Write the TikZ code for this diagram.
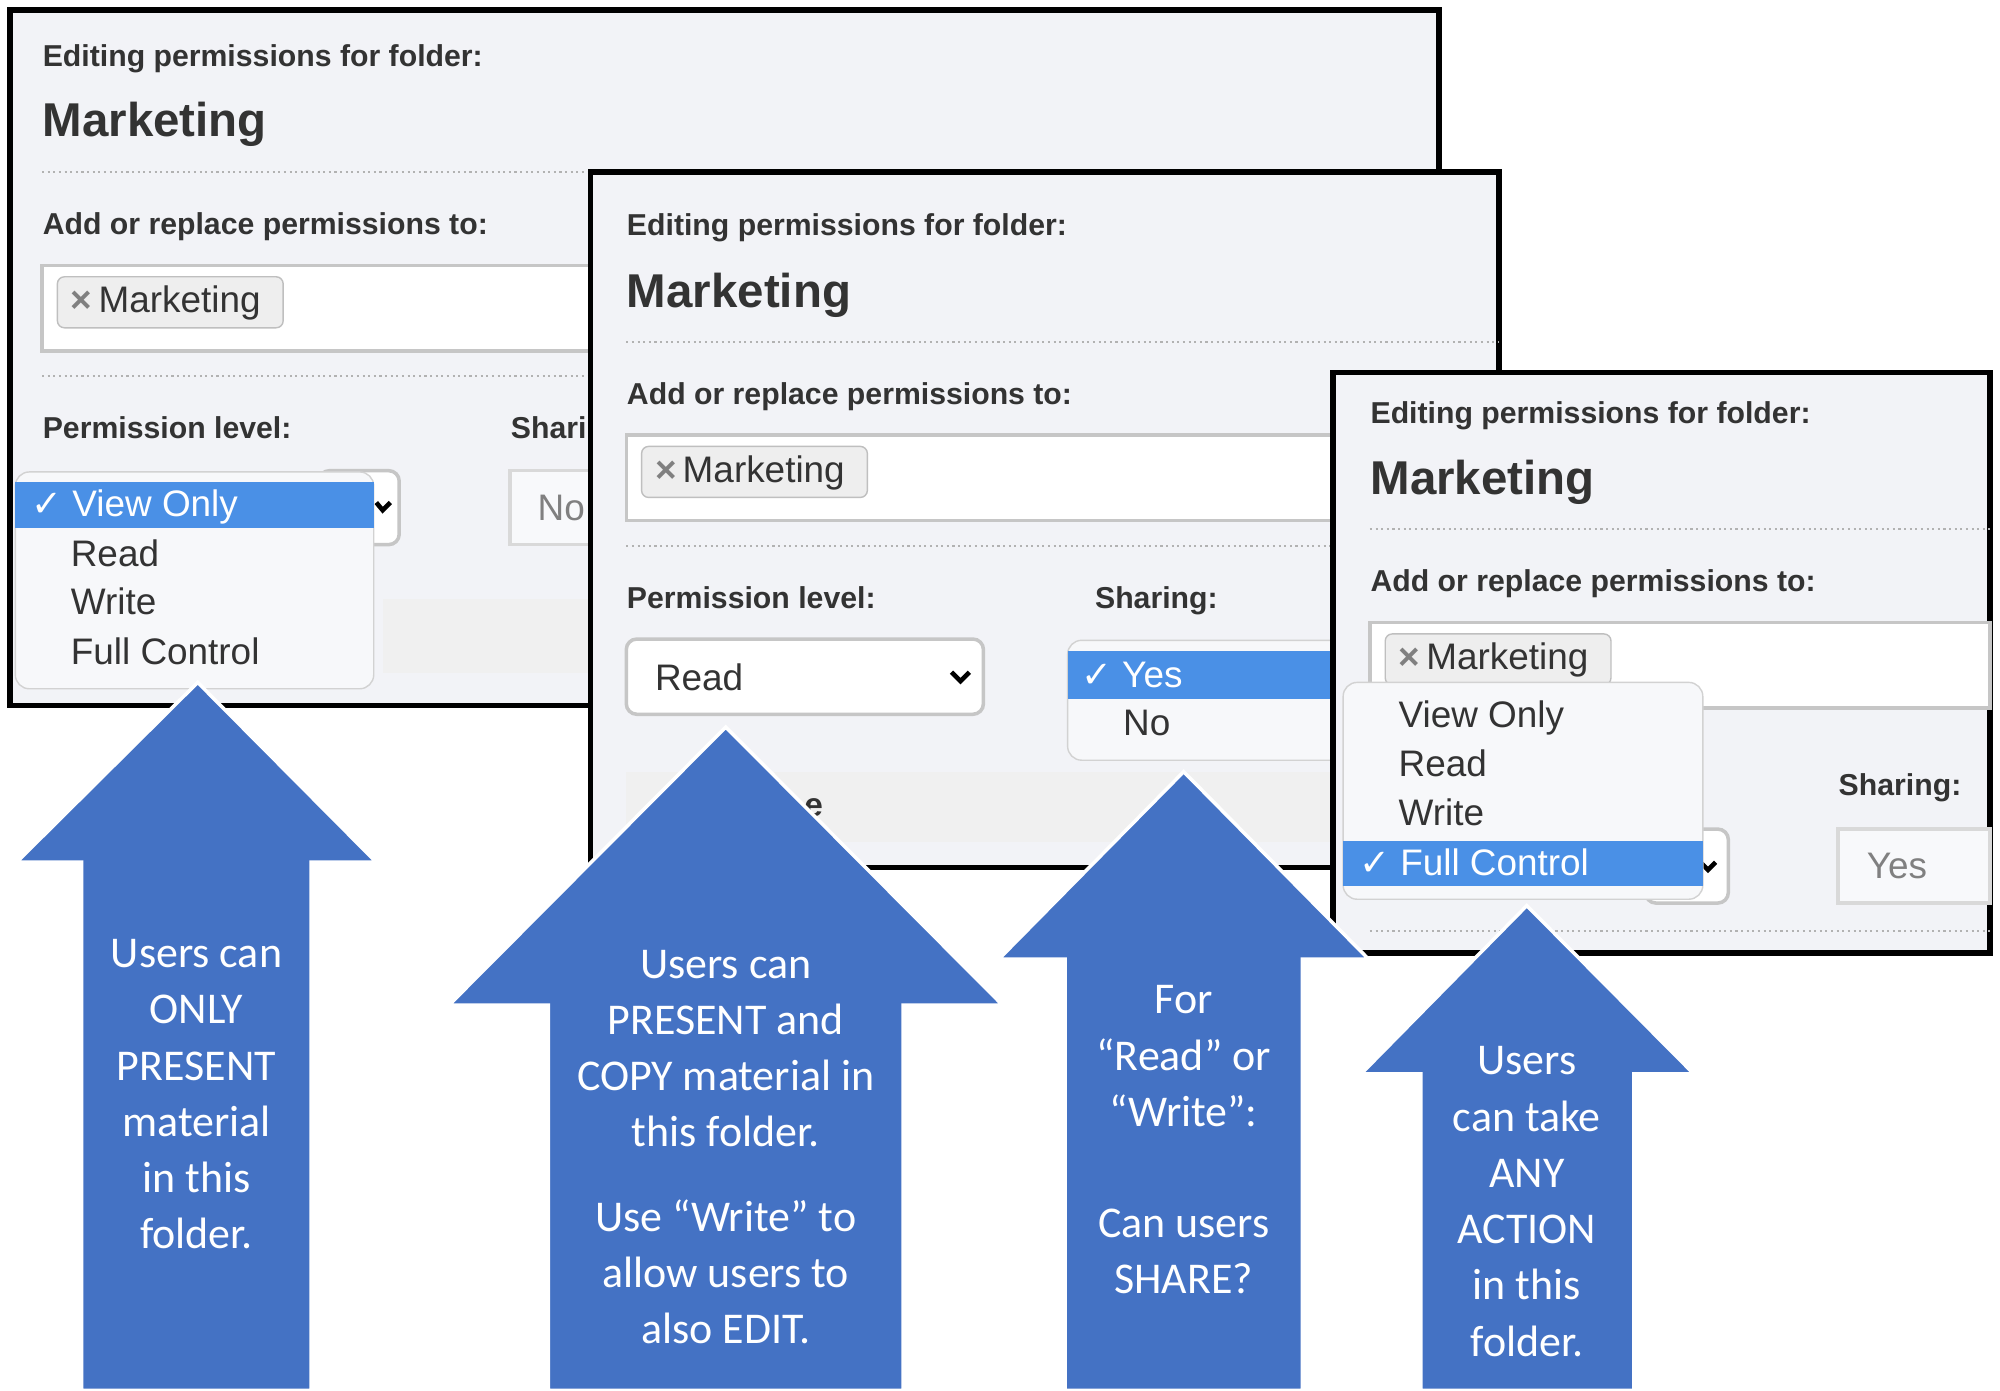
\documentclass[tikz,border=0pt]{standalone}
\usepackage{fontspec}
\setmainfont{Liberation Sans}
\newfontfamily\arrowfont{Carlito}
\newfontfamily\symfont{DejaVu Sans}
\usetikzlibrary{positioning}
\definecolor{panelbg}{HTML}{F2F3F7}
\definecolor{selblue}{HTML}{4A90E6}
\definecolor{arrowblue}{HTML}{4472C4}
\definecolor{tagbg}{HTML}{EEEEEE}
\definecolor{uitext}{HTML}{333333}
\newcommand\tick{{\symfont ✓}}
\tikzset{
  panel/.style={draw=black, line width=1.6pt, fill=panelbg},
  title/.style={anchor=base west, font=\bfseries\fontsize{8.6}{10}\selectfont, text=uitext, inner sep=0pt},
  folder/.style={anchor=base west, font=\bfseries\fontsize{13.5}{15}\selectfont, text=uitext, inner sep=0pt},
  rule/.style={draw=gray!60, densely dotted, line width=0.6pt},
  inbox/.style={draw=gray!45, line width=1pt, fill=white},
  tagbox/.style={draw=gray!50, rounded corners=2pt, fill=tagbg},
  item/.style={anchor=base west, font=\fontsize{10.5}{12}\selectfont, text=uitext, inner sep=0pt},
  menu/.style={draw=gray!35, rounded corners=4pt, fill=panelbg!60!white},
  bigarrow/.style={fill=arrowblue, draw=white, line width=1pt},
  arrowtext/.style={align=center, text=white, font=\arrowfont\fontsize{12.5}{16}\selectfont},
}
\begin{document}
\begin{tikzpicture}[x=0.012755cm, y=-0.012755cm]
\useasboundingbox (0,0) rectangle (1568,1090);

% ---------- panel 1: View Only
\draw[panel] (8,8) rectangle (1128,553);
\node[title] (t1) at (33,52) {Editing permissions for folder:};
\node[folder] (f1) at (33,107) {Marketing};
\draw[rule] (33,135) -- (1128,135);
\node[title] (a1) at (33,184) {Add or replace permissions to:};
\draw[inbox] (33,208) rectangle (480,275);
\draw[tagbox] (45,217) rectangle (222,257);
\node[item] (m1) at (55,245) {\textcolor{gray}{\bfseries ×}\,Marketing};
\draw[rule] (33,295) -- (480,295);
\node[title] (p1) at (33,344) {Permission level:};
\node[title] (s1) at (400,344) {Shari};
\draw[inbox, rounded corners=3pt] (250,369) rectangle (313,427);
\draw[line width=1.3pt] (295,394) -- (300,400) -- (306,394);
\draw[inbox, draw=gray!30, fill=panelbg!50!white] (400,369) rectangle (480,427);
\node[item, text=gray] (n1) at (421,408) {No};
\fill[gray!12] (300,470) rectangle (470,528);
% dropdown
\draw[menu] (12,370) rectangle (293,540);
\fill[selblue] (12,378) rectangle (293,414);
\node[item, text=white] (v1) at (24,405) {\tick\ View Only};
\node[item] (r1) at (55,444) {Read};
\node[item] (w1) at (55,482) {Write};
\node[item] (c1) at (55,521) {Full Control};

% ---------- panel 2: Read
\draw[panel] (463,135) rectangle (1175,680);
\node[title] (t2) at (491,185) {Editing permissions for folder:};
\node[folder] (f2) at (491,241) {Marketing};
\draw[rule] (491,268) -- (1175,268);
\node[title] (a2) at (491,317) {Add or replace permissions to:};
\draw[inbox] (491,341) rectangle (1060,408);
\draw[tagbox] (503,350) rectangle (680,390);
\node[item] (m2) at (513,378) {\textcolor{gray}{\bfseries ×}\,Marketing};
\draw[rule] (491,428) -- (1060,428);
\node[title] (p2) at (491,477) {Permission level:};
\node[title] (s2) at (858,477) {Sharing:};
\draw[inbox, rounded corners=3pt] (491,501) rectangle (771,560);
\node[item] (r2) at (513,541) {Read};
\draw[line width=1.3pt] (746,527) -- (753,534) -- (760,527);
\fill[gray!12] (491,605) rectangle (1060,660);
\node[item, font=\bfseries\fontsize{9.5}{11}\selectfont] (e2) at (630,640) {e};
% dropdown
\draw[menu] (837,502) rectangle (1060,596);
\fill[selblue] (837,510) rectangle (1060,548);
\node[item, text=white] (y2) at (847,539) {\tick\ Yes};
\node[item] (n2) at (880,577) {No};

% ---------- panel 3: Full Control
\draw[panel] (1045,292) rectangle (1560,747);
\node[title] (t3) at (1074,332) {Editing permissions for folder:};
\node[folder] (f3) at (1074,388) {Marketing};
\draw[rule] (1074,415) -- (1560,415);
\node[title] (a3) at (1074,464) {Add or replace permissions to:};
\draw[inbox] (1074,488) rectangle (1560,555);
\draw[tagbox] (1086,497) rectangle (1263,537);
\node[item] (m3) at (1096,525) {\textcolor{gray}{\bfseries ×}\,Marketing};
\node[title] (s3) at (1441,624) {Sharing:};
\draw[inbox, rounded corners=3pt] (1290,650) rectangle (1355,708);
\draw[line width=1.3pt] (1333,676) -- (1339,682) -- (1345,676);
\draw[inbox, draw=gray!30, fill=panelbg!50!white] (1441,650) rectangle (1560,708);
\node[item, text=gray] (y3) at (1463,689) {Yes};
\draw[rule] (1074,730) -- (1560,730);
% dropdown
\draw[menu] (1053,535) rectangle (1335,705);
\node[item] (v3) at (1096,570) {View Only};
\node[item] (r3) at (1096,609) {Read};
\node[item] (w3) at (1096,647) {Write};
\fill[selblue] (1053,659) rectangle (1335,695);
\node[item, text=white] (c3) at (1065,686) {\tick\ Full Control};

% ---------- arrows
\draw[bigarrow] (155,535) -- (295,676) -- (244,676) -- (244,1090) -- (64,1090) -- (64,676) -- (13,676) -- cycle;
\draw[bigarrow] (569,570) -- (786,788) -- (708,788) -- (708,1090) -- (430,1090) -- (430,788) -- (352,788) -- cycle;
\draw[bigarrow] (928,605) -- (1073,752) -- (1021,752) -- (1021,1090) -- (835,1090) -- (835,752) -- (783,752) -- cycle;
\draw[bigarrow] (1197,710) -- (1328,842) -- (1281,842) -- (1281,1090) -- (1114,1090) -- (1114,842) -- (1067,842) -- cycle;

% ---------- arrow texts
\node[arrowtext] (txt1) at (154,858) {Users can\\ONLY\\PRESENT\\material\\in this\\folder.};
\node[arrowtext] (txt2) at (569,822) {Users can\\PRESENT and\\COPY material in\\this folder.};
\node[arrowtext] (txt2b) at (569,997) {Use “Write” to\\allow users to\\also EDIT.};
\node[arrowtext] (txt3) at (928,828) {For\\“Read” or\\“Write”:};
\node[arrowtext] (txt3b) at (928,981) {Can users\\SHARE?};
\node[arrowtext] (txt4) at (1197,942) {Users\\can take\\ANY\\ACTION\\in this\\folder.};
\end{tikzpicture}
\end{document}
